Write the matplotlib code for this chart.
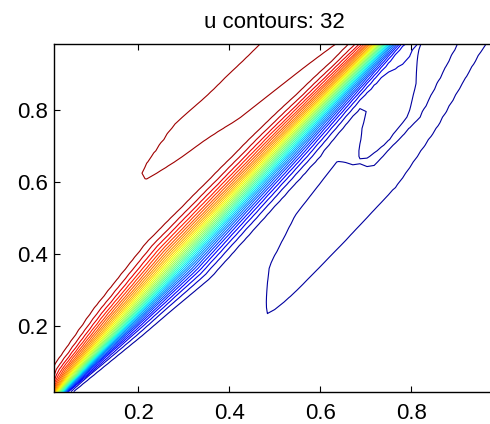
import math
import numpy as np
import matplotlib.pyplot as plt

plt.rcParams['font.family'] = ['Liberation Sans', 'DejaVu Sans']
fontSize = 16

# grid of the field (interior points of a 64 x 64 mesh)
n_grid = 63
n_levels = 32

# steep band: line through (0, band_y0) with slope band_slope, small sideways
# offset band_c and half widths above (plus) and below (minus), along the line
band_slope = 1.40
band_y0 = -0.025
band_t = [0.0, 0.1, 0.28, 0.5, 0.9, 1.3, 1.5]
band_c = [0.0, 0.0, 0.0, 0.0, -0.005, -0.012, -0.015]
band_wp = [0.012, 0.04, 0.056, 0.066, 0.056, 0.038, 0.036]
band_wm = [0.008, 0.02, 0.041, 0.063, 0.058, 0.041, 0.04]

# dip below the top plateau, upper left of the band (closed red contour)
hi_t = [0.62, 0.8, 0.9, 1.1, 1.2, 1.4]
hi_s = [0.2, 0.19, 0.171, 0.148, 0.138, 0.13]
hi_sig = [0.012, 0.04, 0.048, 0.058, 0.066, 0.068]
hi_tip, hi_amp = 0.63, 0.1

# humps above the bottom plateau, lower right of the band (blue contours)
hump_amp = 0.1
main_t = [0.48, 0.6, 0.75, 0.93, 0.955, 1.13, 1.36, 1.5]
main_s = [-0.248, -0.215, -0.2, -0.196, -0.231, -0.222, -0.172, -0.16]
main_sig = [0.005, 0.045, 0.065, 0.072, 0.037, 0.024, 0.029, 0.028]
main_tip = 0.48
sliver_t = [0.95, 1.03, 1.12, 1.2, 1.29, 1.4]
sliver_s = [-0.165, -0.147, -0.13, -0.105, -0.07, -0.06]
sliver_sig = [0.005, 0.033, 0.045, 0.035, 0.008, 0.006]
sliver_tip = 0.955

xs = np.arange(1, n_grid + 1) / (n_grid + 1)
X, Y = np.meshgrid(xs, xs)

d = np.array([1.0, band_slope]) / math.hypot(1.0, band_slope)
T = d[0] * X + d[1] * (Y - band_y0)
S = -d[1] * X + d[0] * (Y - band_y0)


def lobe(tk, sk, gk, tip, tau=0.025, p=4):
    sc = np.interp(T, tk, sk)
    sg = np.interp(T, tk, gk)
    ramp = 1.0 / (1.0 + np.exp(-(T - tip) / tau))
    return np.exp(-0.5 * ((S - sc) / sg) ** p) * ramp


verf = np.vectorize(math.erf)
Sb = S - np.interp(T, band_t, band_c)
W = np.where(Sb > 0, np.interp(T, band_t, band_wp), np.interp(T, band_t, band_wm))
U = verf(Sb / W)
U = U - hi_amp * lobe(hi_t, hi_s, hi_sig, hi_tip, p=6)
hump = np.maximum(lobe(main_t, main_s, main_sig, main_tip),
                  lobe(sliver_t, sliver_s, sliver_sig, sliver_tip, 0.01))
U = U + hump_amp * hump

levels = np.linspace(U.min(), U.max(), n_levels + 2)[1:-1]

fig = plt.figure(figsize=(4.9, 4.24), dpi=100)
ax = fig.add_axes([0.1108, 0.0762, 0.8994, 0.8193])
ax.contour(X, Y, U, levels=levels, cmap='jet', vmin=U.min(), vmax=U.max(),
           linewidths=0.8)
ax.set_xlim(xs[0], xs[-1])
ax.set_ylim(xs[0], xs[-1])
ax.set_xticks([0.2, 0.4, 0.6, 0.8])
ax.set_yticks([0.2, 0.4, 0.6, 0.8])
ax.set_xticklabels(['0.2', '0.4', '0.6', '0.8'])
ax.set_yticklabels(['0.2', '0.4', '0.6', '0.8'])
ax.tick_params(direction='in', top=True, right=False, length=4, width=0.8,
               labelsize=fontSize)
ax.tick_params(axis='x', pad=8.5)
ax.tick_params(axis='y', pad=4.5)
for sp in ax.spines.values():
    sp.set_linewidth(1.0)
ax.set_title('u contours: 32', fontsize=fontSize, pad=11.5)

fig.savefig('out.png', dpi=100)
